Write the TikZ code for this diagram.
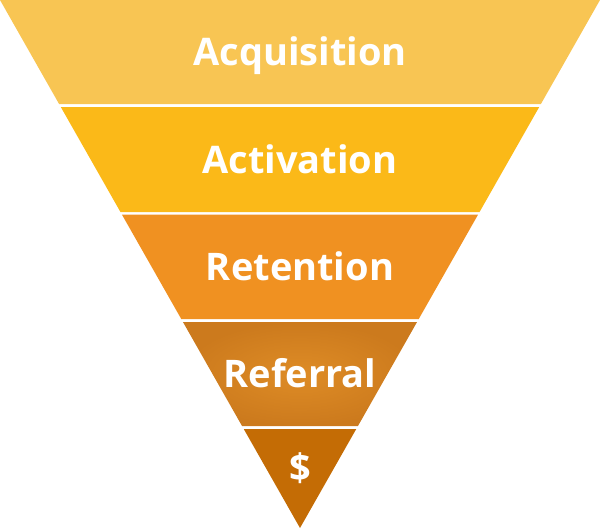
\documentclass[tikz,border=0pt]{standalone}
\usepackage{fontspec}
\setmainfont{Open Sans}
\usepackage{tikz}
\usetikzlibrary{positioning,calc}
\definecolor{acqcol}{HTML}{F8C553}
\definecolor{actcol}{HTML}{FBB918}
\definecolor{retcol}{HTML}{F09121}
\definecolor{refin}{HTML}{DE8C26}
\definecolor{refout}{HTML}{CC7A1D}
\definecolor{moncol}{HTML}{C46C05}
\tikzset{
  bandfill/.style={draw=none},
  bandlabel/.style={text=white, anchor=base, inner sep=0pt, font=\bfseries\fontsize{38}{40}\selectfont}
}
% trapezoid of the funnel between depths #1 and #2 (apex at depth 528)
\newcommand{\funnelband}[2]{%
  ({#1*0.568182},-#1) -- ({600-#1*0.568182},-#1) -- ({600-#2*0.568182},-#2) -- ({#2*0.568182},-#2) -- cycle}

\begin{document}
\begin{tikzpicture}[x=1pt, y=1pt]
  \useasboundingbox (0,0) rectangle (600,-530);
  % bands
  \fill[bandfill, acqcol] \funnelband{0}{104};
  \fill[bandfill, actcol] \funnelband{107}{212};
  \fill[bandfill, retcol] \funnelband{214.5}{319};
  \shade[bandfill, inner color=refin, outer color=refout] \funnelband{322}{426};
  \fill[bandfill, moncol] ({429*0.568182},-429) -- ({600-429*0.568182},-429) -- (300,-528) -- cycle;
  % labels
  \node[bandlabel] (acq) at (300,-65) {Acquisition};
  \node[bandlabel] (act) at (300,-173) {Activation};
  \node[bandlabel] (ret) at (300,-280) {Retention};
  \node[bandlabel] (ref) at (300,-387) {Referral};
  \node[bandlabel] (mon) at (300,-481) {\$};
\end{tikzpicture}
\end{document}
